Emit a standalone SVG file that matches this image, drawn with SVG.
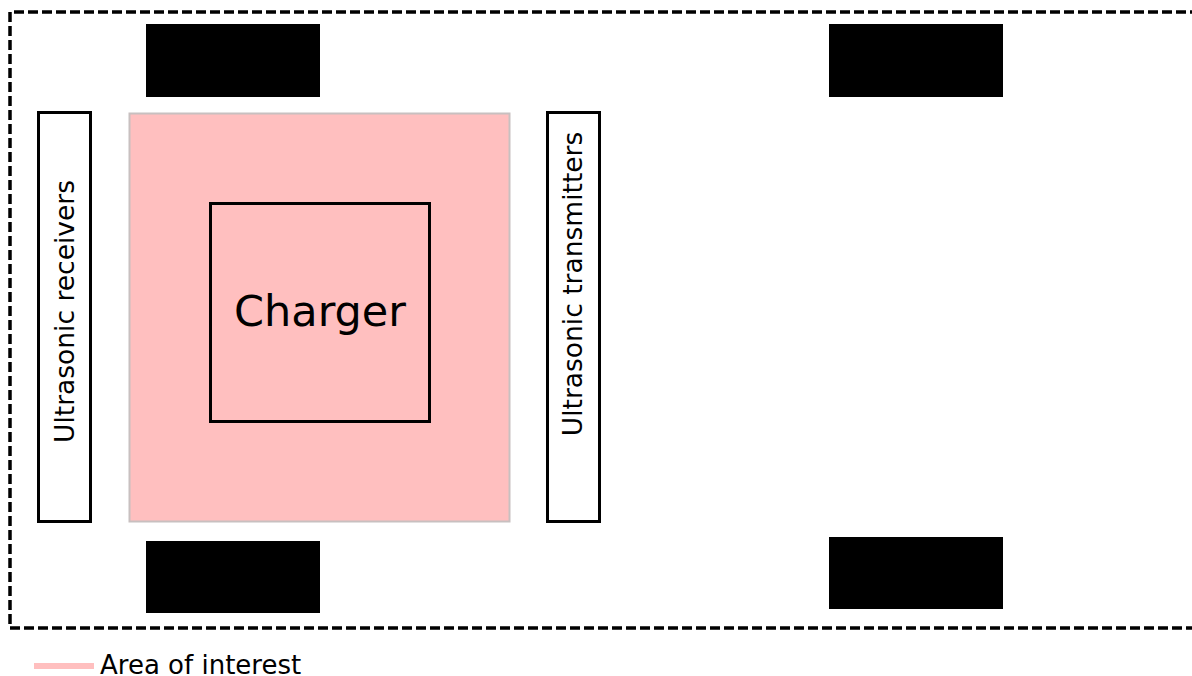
<svg xmlns="http://www.w3.org/2000/svg" width="1192" height="676" viewBox="0 0 1192 676">
  <style>
    .lbl { font-family: "DejaVu Sans", sans-serif; fill: #000; }
    .wheel { fill: #000; }
    .box { fill: #fff; stroke: #000; stroke-width: 3; }
  </style>
  <rect x="0" y="0" width="1192" height="676" fill="#fff"/>
  <!-- vehicle outline -->
  <path d="M1200 12 H10 V628 H1200" fill="none" stroke="#000" stroke-width="3.5" stroke-dasharray="10 4"/>
  <!-- wheels -->
  <g id="wheels">
    <rect class="wheel" x="146" y="24" width="174" height="73"/>
    <rect class="wheel" x="829" y="24" width="174" height="73"/>
    <rect class="wheel" x="146" y="541" width="174" height="72"/>
    <rect class="wheel" x="829" y="537" width="174" height="72"/>
  </g>
  <g id="area">
    <rect x="129.5" y="113.5" width="380" height="408" fill="#ffbfbf" stroke="#c8c0c0" stroke-width="2"/>
  </g>
  <g id="charger">
    <rect x="210.5" y="203.5" width="219" height="218" fill="none" stroke="#000" stroke-width="3"/>
    <text class="lbl" x="320" y="326" font-size="43" text-anchor="middle">Charger</text>
  </g>
  <g id="receivers">
    <rect class="box" x="38.5" y="112.5" width="52" height="409"/>
    <text class="lbl" font-size="26.5" text-anchor="middle" transform="translate(74 311.5) rotate(-90)">Ultrasonic receivers</text>
  </g>
  <g id="transmitters">
    <rect class="box" x="547.5" y="112.5" width="52" height="409"/>
    <text class="lbl" font-size="26.5" text-anchor="middle" transform="translate(582 284) rotate(-90)">Ultrasonic transmitters</text>
  </g>
  <g id="legend">
    <line x1="34" y1="666" x2="94" y2="666" stroke="#ffbfbf" stroke-width="6"/>
    <text class="lbl" x="100" y="674" font-size="26">Area of interest</text>
  </g>
</svg>
